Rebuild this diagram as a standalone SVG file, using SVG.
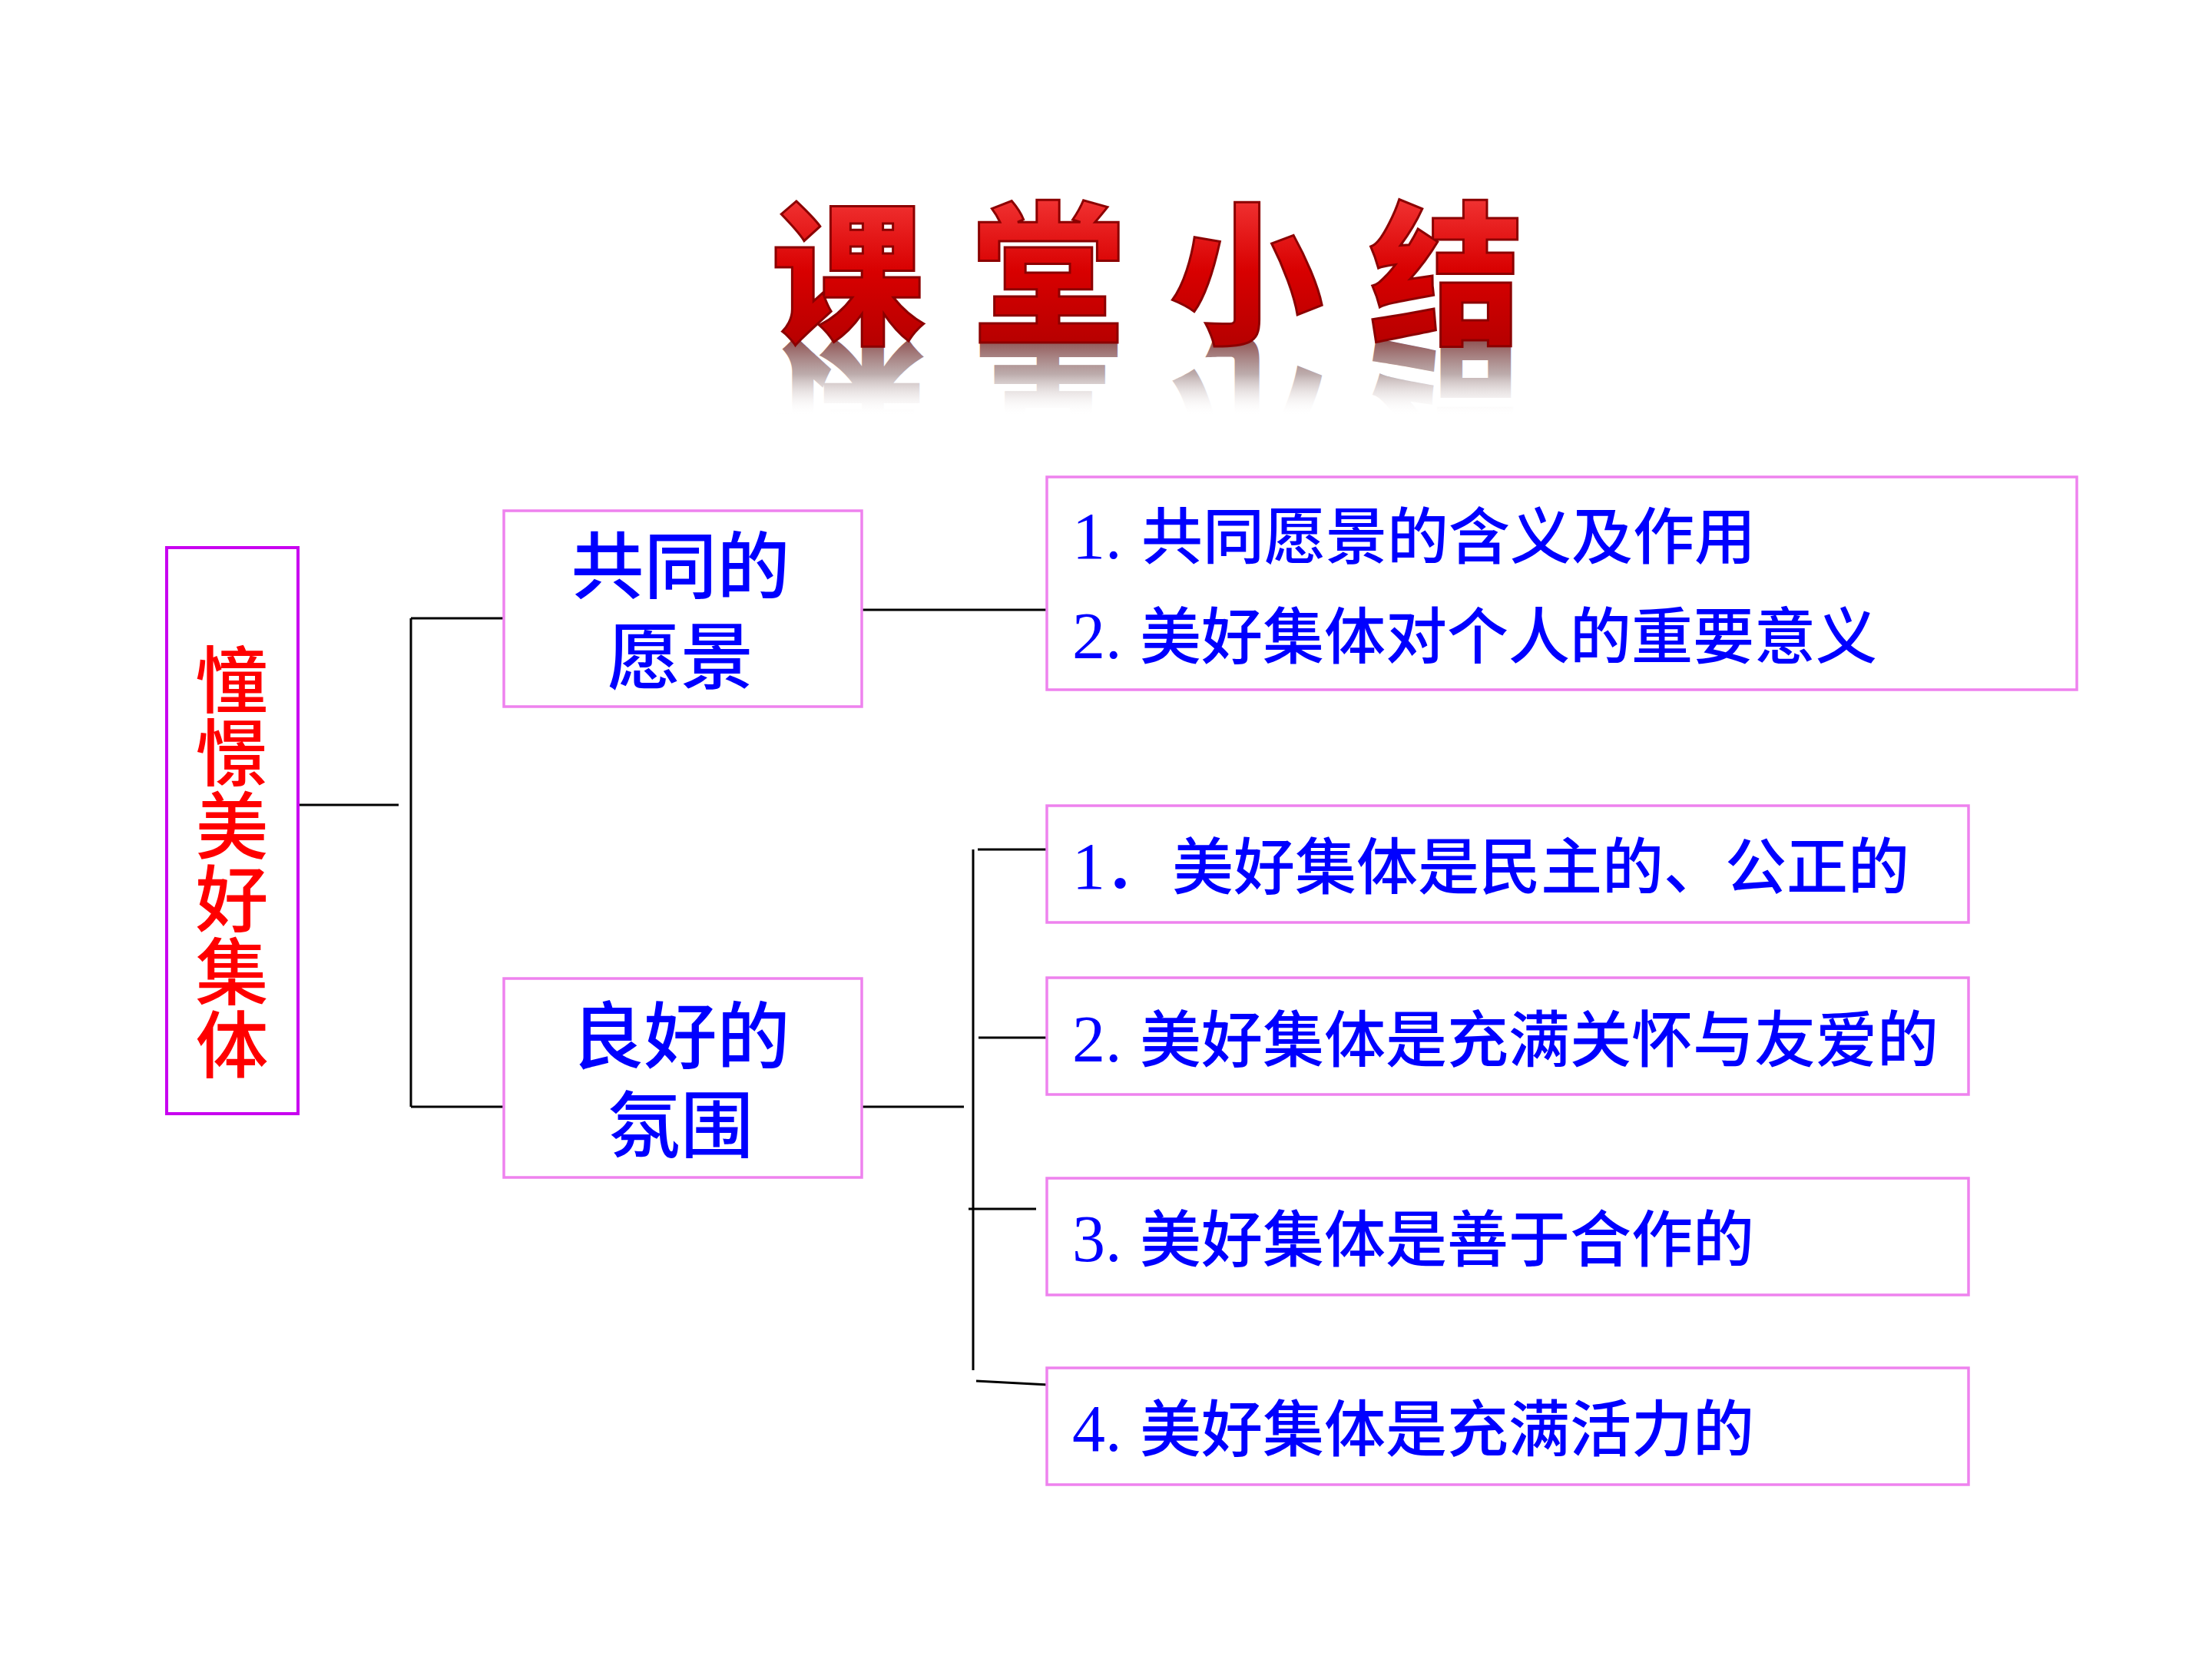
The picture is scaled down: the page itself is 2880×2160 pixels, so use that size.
<svg xmlns="http://www.w3.org/2000/svg" xmlns:xlink="http://www.w3.org/1999/xlink" width="2880" height="2160" viewBox="0 0 2880 2160">
<defs>
<style>
.box{fill:#FFFFFF;stroke:#EE82EE;stroke-width:3.5}
.lbox{fill:#FFFFFF;stroke:#C800F0;stroke-width:4}
.conn line{stroke:#000000;stroke-width:3;fill:none}
.mid{font-family:"Noto Sans CJK SC",sans-serif;font-size:95px;font-weight:500;fill:#0000FF;text-anchor:middle}
.item{font-family:"Liberation Serif","Noto Sans CJK SC",serif;font-size:86px;font-weight:normal;fill:#0000FF}
.cjk{font-family:"Noto Sans CJK SC",sans-serif;font-weight:500;font-size:80px}
.left{font-family:"Noto Sans CJK SC",sans-serif;font-size:95px;font-weight:500;fill:#FF0000;text-anchor:middle;writing-mode:vertical-rl}
.title{font-family:"Noto Sans CJK SC",sans-serif;font-size:200px;font-weight:900;text-anchor:middle}
</style>
<linearGradient id="tg" gradientUnits="userSpaceOnUse" x1="0" y1="263" x2="0" y2="443">
<stop offset="0" stop-color="#F03030"/>
<stop offset="0.5" stop-color="#D80000"/>
<stop offset="1" stop-color="#B80000"/>
</linearGradient>
<linearGradient id="rg" gradientUnits="userSpaceOnUse" x1="0" y1="443" x2="0" y2="345">
<stop offset="0" stop-color="#8A4A4A" stop-opacity="0.95"/>
<stop offset="0.45" stop-color="#A08888" stop-opacity="0.7"/>
<stop offset="1" stop-color="#FFFFFF" stop-opacity="0"/>
</linearGradient>
<g id="titleText" class="title">
<text x="1104" y="432">课</text>
<text x="1365" y="432">堂</text>
<text x="1623" y="432">小</text>
<text x="1883" y="432">结</text>
</g>
</defs>
<rect x="0" y="0" width="2880" height="2160" fill="#FFFFFF"/>

<g id="title">
<use href="#titleText" xlink:href="#titleText" transform="translate(0,886) scale(1,-1)" fill="url(#rg)"/>
<use href="#titleText" xlink:href="#titleText" fill="url(#tg)" stroke="#8B0000" stroke-width="3"/>
</g>

<g class="conn" id="connectors">
<line x1="388" y1="1048" x2="519" y2="1048"/>
<line x1="535" y1="805" x2="535" y2="1441"/>
<line x1="535" y1="805" x2="656" y2="805"/>
<line x1="535" y1="1441" x2="656" y2="1441"/>
<line x1="1122" y1="794" x2="1363" y2="794"/>
<line x1="1122" y1="1441" x2="1255" y2="1441"/>
<line x1="1267" y1="1106" x2="1267" y2="1784"/>
<line x1="1273" y1="1106" x2="1363" y2="1106"/>
<line x1="1274" y1="1351" x2="1363" y2="1351"/>
<line x1="1261" y1="1574" x2="1349" y2="1574"/>
<line x1="1271" y1="1798" x2="1365" y2="1803"/>
</g>

<g id="root">
<rect class="lbox" x="217" y="713" width="171" height="737"/>
<text class="left" x="302" y="1122">憧憬美好集体</text>
</g>

<g id="vision">
<rect class="box" x="656" y="665" width="466" height="255"/>
<text class="mid" x="886" y="772">共同的<tspan x="886" y="890">愿景</tspan></text>
</g>

<g id="atmosphere">
<rect class="box" x="656" y="1274" width="466" height="259"/>
<text class="mid" x="886" y="1384">良好的<tspan x="886" y="1500">氛围</tspan></text>
</g>

<g id="vision-items">
<rect class="box" x="1363" y="621" width="1341" height="277"/>
<text class="item" x="1396" y="727">1.<tspan class="cjk" x="1486">共同愿景的含义及作用</tspan></text>
<text class="item" x="1396" y="857">2.<tspan class="cjk" x="1484">美好集体对个人的重要意义</tspan></text>
</g>

<g id="item1">
<rect class="box" x="1363" y="1049" width="1200" height="152"/>
<text class="item" x="1396" y="1157">1<tspan class="cjk" x="1438">．</tspan><tspan class="cjk" x="1526">美好集体是民主的、公正的</tspan></text>
</g>

<g id="item2">
<rect class="box" x="1363" y="1273" width="1200" height="152"/>
<text class="item" x="1396" y="1382">2.<tspan class="cjk" x="1484">美好集体是充满关怀与友爱的</tspan></text>
</g>

<g id="item3">
<rect class="box" x="1363" y="1534" width="1200" height="152"/>
<text class="item" x="1396" y="1642">3.<tspan class="cjk" x="1484">美好集体是善于合作的</tspan></text>
</g>

<g id="item4">
<rect class="box" x="1363" y="1781" width="1200" height="152"/>
<text class="item" x="1396" y="1889">4.<tspan class="cjk" x="1484">美好集体是充满活力的</tspan></text>
</g>
</svg>
